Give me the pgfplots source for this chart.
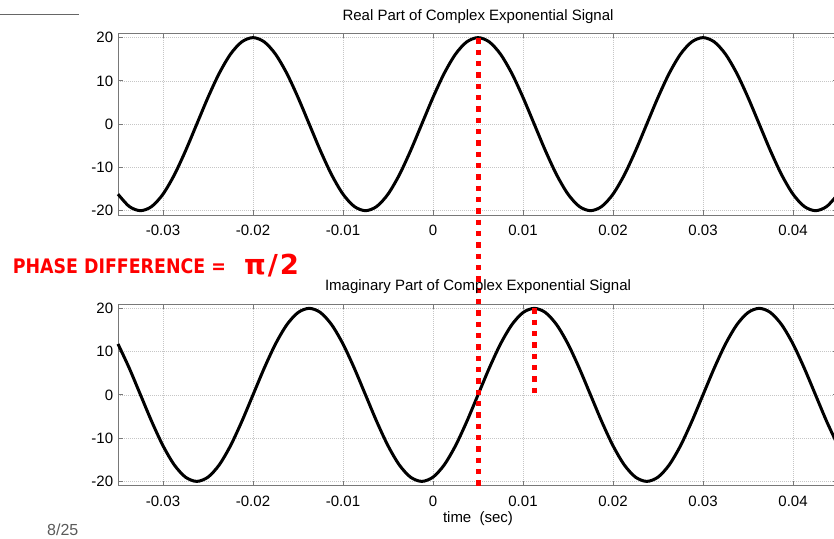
\documentclass[border=0pt]{standalone}
\usepackage{pgfplots}
\usepackage{pgfplotstable}
\pgfplotsset{compat=1.18}
\usepackage{fontspec}
\setmainfont{Liberation Sans}
\newfontfamily\redfont[FakeStretch=0.87]{DejaVu Sans}
\newfontfamily\pifont{DejaVu Sans}
\definecolor{axgray}{RGB}{120,120,120}
\definecolor{pagegray}{RGB}{90,90,90}

\pgfplotstableread{
t re im
-0.035 -16.180 11.756
-0.03375 -19.021 6.180
-0.0325 -20 0
-0.03125 -19.021 -6.180
-0.03 -16.180 -11.756
-0.02875 -11.756 -16.180
-0.0275 -6.180 -19.021
-0.02625 0 -20
-0.025 6.180 -19.021
-0.02375 11.756 -16.180
-0.0225 16.180 -11.756
-0.02125 19.021 -6.180
-0.02 20 0
-0.01875 19.021 6.180
-0.0175 16.180 11.756
-0.01625 11.756 16.180
-0.015 6.180 19.021
-0.01375 0 20
-0.0125 -6.180 19.021
-0.01125 -11.756 16.180
-0.01 -16.180 11.756
-0.00875 -19.021 6.180
-0.0075 -20 0
-0.00625 -19.021 -6.180
-0.005 -16.180 -11.756
-0.00375 -11.756 -16.180
-0.0025 -6.180 -19.021
-0.00125 0 -20
0 6.180 -19.021
0.00125 11.756 -16.180
0.0025 16.180 -11.756
0.00375 19.021 -6.180
0.005 20 0
0.00625 19.021 6.180
0.0075 16.180 11.756
0.00875 11.756 16.180
0.01 6.180 19.021
0.01125 0 20
0.0125 -6.180 19.021
0.01375 -11.756 16.180
0.015 -16.180 11.756
0.01625 -19.021 6.180
0.0175 -20 0
0.01875 -19.021 -6.180
0.02 -16.180 -11.756
0.02125 -11.756 -16.180
0.0225 -6.180 -19.021
0.02375 0 -20
0.025 6.180 -19.021
0.02625 11.756 -16.180
0.0275 16.180 -11.756
0.02875 19.021 -6.180
0.03 20 0
0.03125 19.021 6.180
0.0325 16.180 11.756
0.03375 11.756 16.180
0.035 6.180 19.021
0.03625 0 20
0.0375 -6.180 19.021
0.03875 -11.756 16.180
0.04 -16.180 11.756
0.04125 -19.021 6.180
0.0425 -20 0
0.04375 -19.021 -6.180
0.045 -16.180 -11.756
}\data

\pgfplotsset{
  every axis title shift=0pt,
  sigstyle/.style={
    scale only axis, width=720pt, height=181.7pt,
    xmin=-0.035, xmax=0.045, ymin=-21, ymax=21,
    xtick={-0.03,-0.02,-0.01,0,0.01,0.02,0.03,0.04},
    xticklabels={-0.03,-0.02,-0.01,0,0.01,0.02,0.03,0.04},
    ytick={-20,-10,0,10,20},
    yticklabels={-20,-10,0,10,20},
    scaled x ticks=false, scaled y ticks=false,
    grid=major,
    major grid style={line width=0.6pt, gray!45, dash pattern=on 1pt off 1pt},
    axis line style={line width=1pt, draw=axgray},
    tick style={line width=1pt, draw=axgray},
    major tick length=5pt,
    tick align=inside,
    xtick pos=both, ytick pos=both,
    xticklabel style={anchor=base, inner sep=0pt, yshift=-20.5pt, font=\fontsize{15}{18}\selectfont},
    yticklabel style={anchor=east, inner sep=0pt, xshift=-4.7pt, font=\fontsize{15}{18}\selectfont},
    title style={at={(axis description cs:0.5,1)}, anchor=base, inner sep=0pt, yshift=13.3pt, font=\fontsize{15}{18}\selectfont},
    xlabel style={at={(axis description cs:0.5,0)}, anchor=base, inner sep=0pt, yshift=-37pt, font=\fontsize{15}{18}\selectfont},
    clip=false,
  }
}

\begin{document}
\begin{tikzpicture}[x=1pt,y=1pt]
\useasboundingbox (0,0) rectangle (834,-538);
\clip (0,0) rectangle (834,-538);

% slide decorations
\draw[line width=1.2pt, gray!80!black] (0,-14.3) -- (79,-14.3);
\node[anchor=base west, inner sep=0pt, text=pagegray, font=\fontsize{16}{18}\selectfont] at (47,-535.5) {8/25};

% top axis
\begin{axis}[sigstyle, at={(118pt,-215pt)}, anchor=south west,
  title={Real Part of Complex Exponential Signal}]
\addplot[black, line width=3pt, smooth] table[x=t, y=re] {\data};
\end{axis}

% bottom axis
\begin{axis}[sigstyle, at={(118pt,-485.7pt)}, anchor=south west,
  title={Imaginary Part of Complex Exponential Signal},
  xlabel={time\ \ (sec)}]
\addplot[black, line width=3pt, smooth] table[x=t, y=im] {\data};
\addplot[red, line width=5pt, line cap=butt, dash pattern=on 5.5pt off 5.83pt] coordinates {(0.005,82.42) (0.005,-21)};
\addplot[red, line width=5pt, line cap=butt, dash pattern=on 5.5pt off 5.83pt] coordinates {(0.01125,20) (0.01125,0.4)};
\end{axis}

% red annotation
\node[anchor=base west, inner sep=0pt, text=red, font=\redfont\bfseries\fontsize{20}{24}\selectfont] at (12.7,-273.3) {PHASE DIFFERENCE =};
\node[anchor=base west, inner sep=0pt, text=red, font=\pifont\bfseries\fontsize{27.5}{32}\selectfont] at (244,-274.3) {π\kern2pt/\kern2pt2};
\end{tikzpicture}
\end{document}
